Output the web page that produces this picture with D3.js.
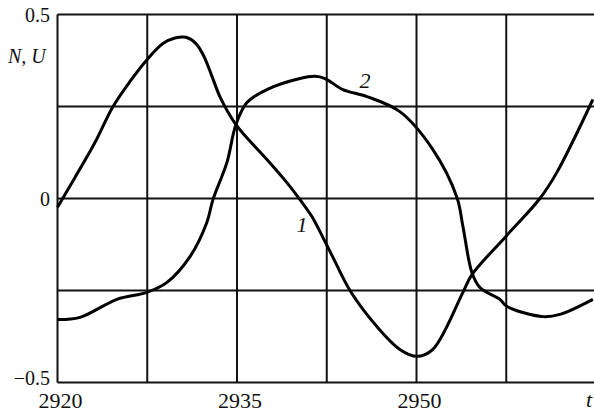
<!DOCTYPE html>
<html>
<head>
<meta charset="utf-8">
<script src="https://cdn.jsdelivr.net/npm/d3@7"></script>
<style>
  html, body { margin: 0; padding: 0; background: #fff; }
  svg { display: block; }
  text { font-family: "Liberation Serif", "DejaVu Serif", serif; fill: #111; }
</style>
</head>
<body>
<div id="chart"></div>
<script>
// curve 1 (t, value)
var t1 = [2920, 2921.46, 2923.13, 2924.64, 2926.06, 2927.48, 2928.81, 2929.82, 2930.74, 2931.57, 2932.24, 2932.91, 2933.57, 2934.91,
          2937.5, 2939.17, 2940.26, 2941.26, 2942.18, 2943.02, 2944.44, 2946.69, 2948.61, 2950.03, 2951.37, 2953.88, 2954.63,
          2957.47, 2960.31, 2961.73, 2964.74];
var u1 = [-0.024, 0.057, 0.152, 0.25, 0.318, 0.377, 0.421, 0.436, 0.438, 0.421, 0.386, 0.332, 0.277, 0.201,
          0.106, 0.043, -0.003, -0.049, -0.106, -0.160, -0.25, -0.348, -0.41, -0.429, -0.41, -0.255, -0.207,
          -0.103, 0, 0.071, 0.269];
// curve 2
var t2 = [2920, 2921.88, 2924.97, 2927.48, 2929.15, 2931.07, 2932.48, 2932.99, 2934.16, 2934.91, 2935.83, 2937.5,
          2940.26, 2941.51, 2942.35, 2943.85, 2945.86, 2948.61, 2951.37, 2953.38, 2953.88, 2954.63, 2955.3, 2956.97,
          2957.55, 2960.56, 2961.98, 2964.74];
var u2 = [-0.329, -0.323, -0.274, -0.255, -0.228, -0.158, -0.065, -0.003, 0.098, 0.201, 0.261, 0.296,
          0.326, 0.332, 0.326, 0.296, 0.277, 0.236, 0.133, 0.003, -0.076, -0.201, -0.242, -0.274,
          -0.293, -0.321, -0.315, -0.274];

var xGrid = [2920, 2927.5, 2935, 2942.5, 2950, 2957.5];
var xLabels = [2920, 2935, 2950];
var yGrid = [0.5, 0.25, 0, -0.25, -0.5];
var yLabels = [0.5, 0, -0.5];

var W = 594, H = 413;
var svg = d3.select("#chart").append("svg").attr("width", W).attr("height", H);

var x = d3.scaleLinear().domain([2920, 2965]).range([57.5, 596]);
var y = d3.scaleLinear().domain([-0.5, 0.5]).range([382.5, 14.5]);
var fmt = function(v){ return v < 0 ? "\u2212" + Math.abs(v) : String(v); };

//grid
svg.selectAll(".vg").data(xGrid).enter().append("line")
  .attr("x1", function(d){ return x(d); }).attr("x2", function(d){ return x(d); })
  .attr("y1", y(0.5)).attr("y2", y(-0.5))
  .attr("stroke", "#111").attr("stroke-width", 2);
svg.selectAll(".hg").data(yGrid).enter().append("line")
  .attr("x1", x(2920)).attr("x2", W)
  .attr("y1", function(d){ return y(d); }).attr("y2", function(d){ return y(d); })
  .attr("stroke", "#111").attr("stroke-width", 2);

//labels
svg.selectAll(".xl").data(xLabels).enter().append("text")
  .attr("x", function(d){ return x(d) + 3; }).attr("y", 408)
  .attr("text-anchor", "middle").attr("font-size", 22)
  .text(function(d){ return d; });
svg.selectAll(".yl").data(yLabels).enter().append("text")
  .attr("x", 50).attr("y", function(d){ return d < 0 ? y(d) + 2 : y(d) + 7; })
  .attr("text-anchor", "end").attr("font-size", 20)
  .text(fmt);
svg.append("text").attr("x", 8).attr("y", 63).attr("font-size", 20)
  .attr("font-style", "italic").text("N, U");
svg.append("text").attr("x", 586).attr("y", 407).attr("font-size", 22)
  .attr("font-style", "italic").text("t");
svg.append("text").attr("x", 302).attr("y", 232).attr("font-size", 22)
  .attr("text-anchor", "middle").attr("font-style", "italic").text("1");
svg.append("text").attr("x", 365).attr("y", 88).attr("font-size", 22)
  .attr("text-anchor", "middle").attr("font-style", "italic").text("2");

//curves
var line = d3.line()
  .x(function(d){ return x(d[0]); })
  .y(function(d){ return y(d[1]); })
  .curve(d3.curveCatmullRom.alpha(0.5));

[[t1, u1], [t2, u2]].forEach(function(s){
  var pts = s[0].map(function(t, i){ return [t, s[1][i]]; });
  svg.append("path").datum(pts)
    .attr("d", line)
    .attr("fill", "none").attr("stroke", "#000").attr("stroke-width", 3)
    .attr("stroke-linejoin", "round");
});
</script>
</body>
</html>
